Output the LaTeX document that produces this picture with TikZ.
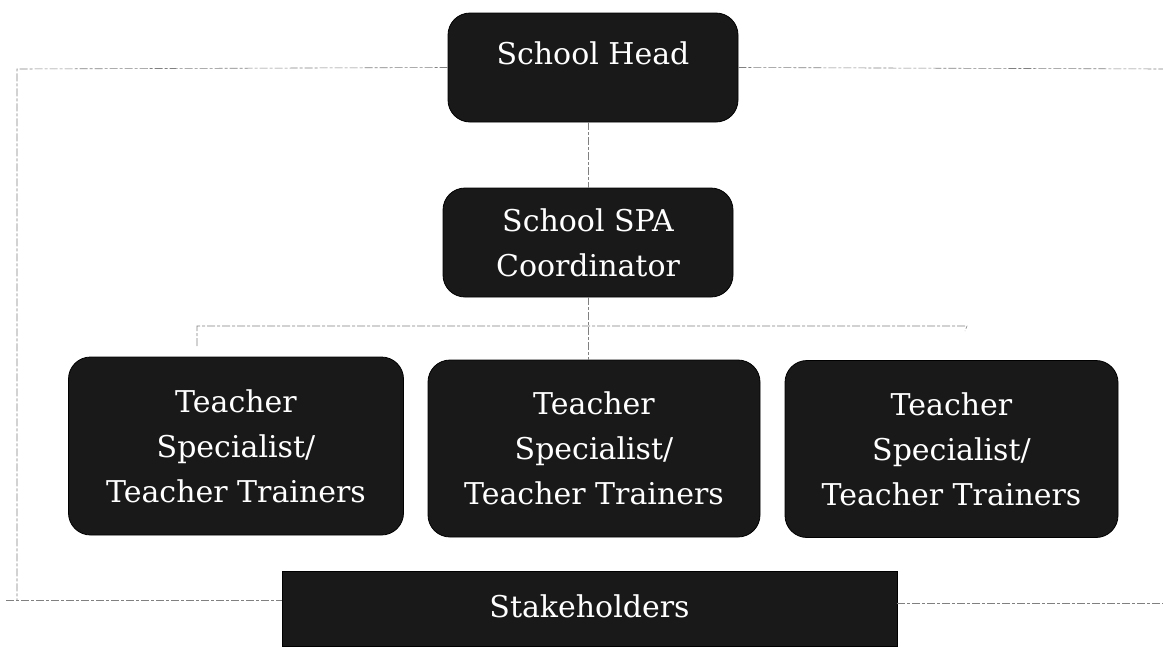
\documentclass[tikz,border=0pt]{standalone}
\usepackage{fontspec}
\setmainfont{DejaVu Serif}
\begin{document}
\begin{tikzpicture}[x=1pt,y=-1pt,
  box/.style={fill=black!90, draw=black, line width=0.8pt, rounded corners=22pt, text=white, align=center, inner sep=0pt,
    font=\fontsize{30}{45}\selectfont},
  sqbox/.style={box, rounded corners=0pt},
  conn/.style={draw=black!50, line width=0.6pt, dash pattern=on 8pt off 2pt on 3pt off 2pt},
]
\useasboundingbox (0,0) rectangle (1163,646);
\node[box, minimum width=290pt, minimum height=109pt,
  label={[text=white, font=\fontsize{30}{45}\selectfont, yshift=14pt]center:School Head}] (head) at (593,67.5) {};
\node[box, minimum width=290pt, minimum height=109pt] (spa) at (588,242.5) {School SPA\\Coordinator};
\node[box, minimum width=335pt, minimum height=178pt] (t1) at (236,446) {Teacher\\Specialist/\\Teacher Trainers};
\node[box, minimum width=332pt, minimum height=177pt] (t2) at (594,448.5) {Teacher\\Specialist/\\Teacher Trainers};
\node[box, minimum width=333pt, minimum height=177pt] (t3) at (951.5,449) {Teacher\\Specialist/\\Teacher Trainers};
\node[sqbox, minimum width=615pt, minimum height=75pt, text depth=0pt] (stake) at (589.5,608.5) {\raisebox{4pt}{Stakeholders}};

\coordinate (tl) at (17,69);
\coordinate (tr) at (1163,69);
\coordinate (bl) at (17,600);
\coordinate (bl0) at (6,600);
\coordinate (br) at (1163,603);
\coordinate (hl) at (197,326);
\coordinate (hlt) at (197,346);
\coordinate (hr) at (967,326);
\coordinate (hrt) at (965,331);

\draw[conn] (head.west) -- (tl) -- (bl);
\draw[conn] (bl0) -- (stake.west |- bl);
\draw[conn] (head.east) -- (tr);
\draw[conn] (stake.east |- br) -- (br);
\draw[conn] (spa.north |- head.south) -- (spa.north);
\draw[conn] (spa.south) -- (spa.south |- t2.north);
\draw[conn] (hlt) -- (hl) -- (hr) -- (hrt);
\end{tikzpicture}
\end{document}
